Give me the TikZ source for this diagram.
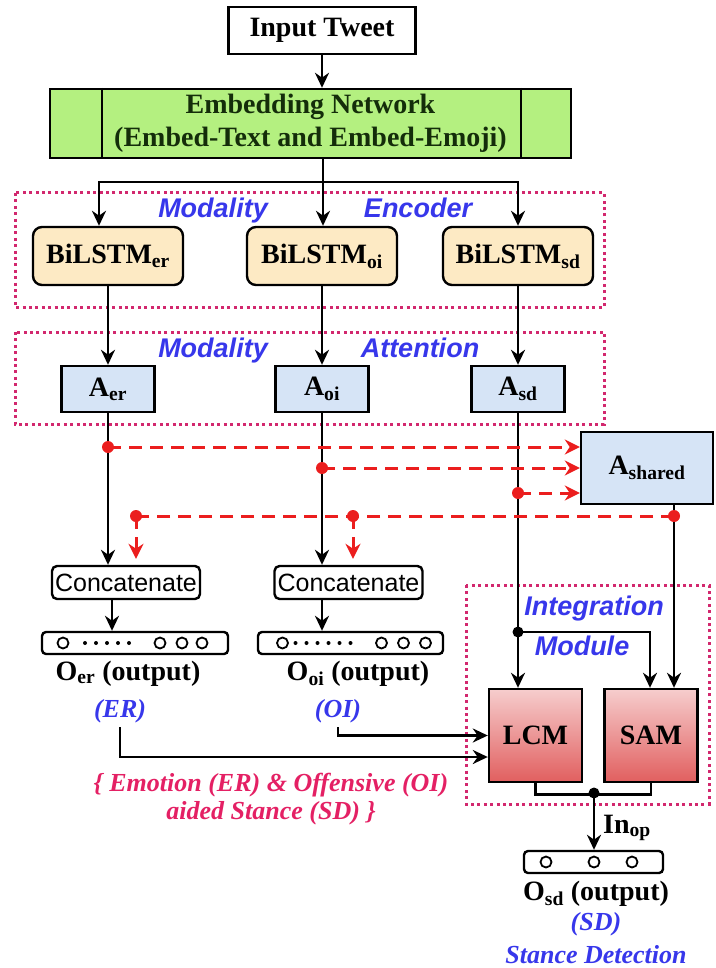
\documentclass[tikz,border=0pt]{standalone}
\usepackage{fontspec}
\setmainfont{Liberation Serif}
\setsansfont{Liberation Sans}
\usetikzlibrary{arrows.meta}
\definecolor{embgreen}{RGB}{180,240,128}
\definecolor{embtext}{RGB}{20,45,10}
\definecolor{lstmbeige}{RGB}{253,234,196}
\definecolor{attblue}{RGB}{214,228,246}
\definecolor{framepink}{RGB}{210,40,110}
\definecolor{labelblue}{RGB}{55,55,235}
\definecolor{dashred}{RGB}{235,30,30}
\definecolor{notepink}{RGB}{228,32,100}
\definecolor{lcmtop}{RGB}{246,205,205}
\definecolor{lcmbot}{RGB}{225,95,95}

\begin{document}
\begin{tikzpicture}[x=1pt, y=-1pt,
        every node/.style={inner sep=0pt, font=\fontsize{28}{32}\selectfont\bfseries},
        blk/.style={draw, line width=2.4pt},
        lstm/.style={blk, rounded corners=9pt, fill=lstmbeige, minimum width=150, minimum height=58},
        att/.style={blk, fill=attblue, minimum width=93, minimum height=46},
        cat/.style={blk, rounded corners=5pt, minimum width=148, minimum height=33, font=\fontsize{25}{28}\selectfont\sffamily},
        vec/.style={blk, rounded corners=4pt, minimum height=22},
        module/.style={blk, top color=lcmtop, bottom color=lcmbot, minimum width=93, minimum height=93},
        lab/.style={text=labelblue, anchor=base, font=\fontsize{27}{30}\selectfont\sffamily\bfseries\itshape},
        tag/.style={text=labelblue, anchor=base, font=\fontsize{26}{30}\selectfont\bfseries\itshape},
        frame/.style={draw=framepink, line width=3pt, dash pattern=on 3pt off 3.4pt},
        arr/.style={line width=2.8pt, -{Stealth[length=15pt,width=14pt]}},
        reddash/.style={draw=dashred, line width=3pt, dash pattern=on 13pt off 8pt},
        redarr/.style={reddash, -{Stealth[length=15pt,width=15pt]}}]
        \useasboundingbox (0,0) rectangle (715,968);

        % Dotted frames
        \draw[frame] (15,193) rectangle (604,307);
        \draw[frame] (15,332) rectangle (604,424);
        \draw[frame] (466,585) rectangle (709,804);

        % Nodes
        \node[blk, minimum width=187, minimum height=47] (tw) at (322,30.5) {Input Tweet};
        \node[blk, fill=embgreen, minimum width=521, minimum height=69, align=center, text=embtext,
              font=\fontsize{28}{33}\selectfont\bfseries] (emb) at (310.5,123.5)
              {Embedding Network\\(Embed-Text and Embed-Emoji)};
        \draw[line width=2.4pt] ([xshift=53pt]emb.north west) -- ([xshift=53pt]emb.south west);
        \draw[line width=2.4pt] ([xshift=-51pt]emb.north east) -- ([xshift=-51pt]emb.south east);

        \node[lstm] (bier) at (108,256) {BiLSTM\textsubscript{er}};
        \node[lstm] (bioi) at (322,256) {BiLSTM\textsubscript{oi}};
        \node[lstm] (bisd) at (518,256) {BiLSTM\textsubscript{sd}};

        \node[att] (aer) at (108,389) {A\textsubscript{er}};
        \node[att] (aoi) at (322,389) {A\textsubscript{oi}};
        \node[att] (asd) at (518,389) {A\textsubscript{sd}};
        \node[blk, fill=attblue, minimum width=132, minimum height=72] (ash) at (647,468) {A\textsubscript{shared}};

        \node[cat] (cer) at (126,582.5) {Concatenate};
        \node[cat] (coi) at (348.5,582.5) {Concatenate};

        \node[vec, minimum width=186] (ver) at (135,643) {};
        \node[vec, minimum width=185] (voi) at (350.5,643) {};
        \node[vec, minimum width=139] (vsd) at (593.5,862) {};

        \node[module] (lcm) at (535.5,735.5) {LCM};
        \node[module] (sam) at (651,735.5) {SAM};

        % Labels
        \node[lab] (mod1) at (213,218) {Modality};
        \node[lab] (encl) at (418,218) {Encoder};
        \node[lab] (mod2) at (213,357) {Modality};
        \node[lab] (attl) at (420,357) {Attention};
        \node[lab] (intl) at (594,615) {Integration};
        \node[lab] (modl) at (582,655) {Module};

        \node[anchor=base] (ter) at (128,680) {O\textsubscript{er} (output)};
        \node[anchor=base] (toi) at (358,680) {O\textsubscript{oi} (output)};
        \node[anchor=base] (tsd) at (596,900) {O\textsubscript{sd} (output)};
        \node[tag] (ger) at (120,717) {(ER)};
        \node[tag] (goi) at (338,717) {(OI)};
        \node[tag] (gsd) at (596,930) {(SD)};
        \node[tag] (stance) at (596,963) {Stance Detection};
        \node[text=notepink, align=center, font=\fontsize{26}{28}\selectfont\bfseries\itshape] (note) at (271,799)
              {\{ Emotion (ER) \& Offensive (OI)\\aided Stance (SD) \}};
        \node[anchor=base west] (inop) at (603,833) {In\textsubscript{op}};

        % Vector cells
        \foreach \x in {-72,25,47,67} \draw[line width=1.8pt] ([xshift=\x pt]ver.center) circle (5.5pt);
        \foreach \x in {-50,-39,-28,-17,-6} \fill ([xshift=\x pt]ver.center) circle (2pt);
        \foreach \x in {-68,31,53,75} \draw[line width=1.8pt] ([xshift=\x pt]voi.center) circle (5.5pt);
        \foreach \x in {-55,-44,-33,-22,-11,0} \fill ([xshift=\x pt]voi.center) circle (2pt);
        \foreach \x in {-47.5,0.5,38.5} \draw[line width=1.8pt] ([xshift=\x pt]vsd.center) circle (5.5pt);

        % Black connectors
        \coordinate (split) at (323,182);
        \draw[arr] (tw.south) -- (tw.south |- emb.north);
        \draw[line width=2.8pt] (emb.south -| split) -- (split);
        \draw[arr] (split) -| ([xshift=-9pt]bier.north);
        \draw[arr] (split) -- (split |- bioi.north);
        \draw[arr] (split) -| (bisd.north);

        \draw[arr] (bier) -- (aer);
        \draw[arr] (bioi) -- (aoi);
        \draw[arr] (bisd) -- (asd);

        \draw[arr] (aer.south) -- (aer.south |- cer.north);
        \draw[arr] (aoi.south) -- (aoi.south |- coi.north);
        \draw[arr] ([xshift=-14pt]cer.south) -- ([xshift=-14pt]cer.south |- ver.north);
        \draw[arr] (aoi.south |- coi.south) -- (aoi.south |- voi.north);

        \coordinate (j1) at (518,632);
        \coordinate (s1) at (674,516);
        \draw[arr] (asd.south) -- (asd.south |- lcm.north);
        \draw[arr] (j1) -| ([xshift=-1pt]sam.north);
        \draw[arr] (ash.south -| s1) -- (s1 |- sam.north);
        \fill (j1) circle (5.5pt);

        \draw[arr] ([yshift=-10pt]ger.base) |- ([yshift=-21.5pt]lcm.west);
        \draw[arr] ([yshift=-10pt]goi.base) |- (lcm.west);

        \coordinate (j2) at (594,793);
        \draw[line width=2.8pt] (lcm.south) -- ++(0,11) -| (sam.south);
        \draw[arr] (j2) -- (j2 |- vsd.north);
        \fill (j2) circle (5.5pt);

        % Red dashed connectors
        \coordinate (d1) at (108,447);
        \coordinate (d2) at (322,468);
        \coordinate (d3) at (518,493);
        \coordinate (r1) at (136,516);
        \coordinate (r2) at (353,516);
        \draw[redarr] (d1) -- (d1 -| ash.west);
        \draw[redarr] (d2) -- (d2 -| ash.west);
        \draw[redarr] (d3) -- (d3 -| ash.west);
        \draw[reddash] (s1) -- (r1);
        \draw[redarr] (r1) -- ([yshift=6pt]r1 |- cer.north);
        \draw[redarr] (r2) -- ([yshift=6pt]r2 |- coi.north);
        \foreach \p in {d1,d2,d3,s1,r1,r2} \fill[dashred] (\p) circle (6pt);
    \end{tikzpicture}
\end{document}
